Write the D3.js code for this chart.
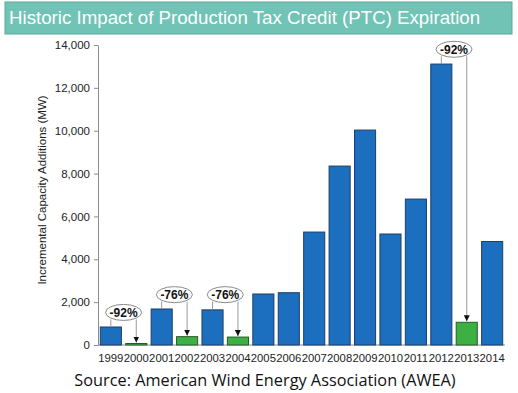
<!DOCTYPE html>
<html>
<head>
<meta charset="utf-8">
<script src="https://cdn.jsdelivr.net/npm/d3@7"></script>
<style>
  body { margin: 0; background: #fff; }
  svg { display: block; }
</style>
</head>
<body>
<div id="chart"></div>
<script>
// Data
const years = ["1999","2000","2001","2002","2003","2004","2005","2006","2007","2008","2009","2010","2011","2012","2013","2014"];
const capacity = [840, 70, 1680, 390, 1640, 370, 2380, 2440, 5270, 8350, 10030, 5180, 6810, 13110, 1060, 4830];
const expiryYears = ["2000", "2002", "2004", "2013"];
const yTicks = [0, 2000, 4000, 6000, 8000, 10000, 12000, 14000];

// annotations : year before -> expiry year, label, ellipse height (MW)
const dropFrom = ["1999", "2001", "2003", "2012"];
const dropTo = ["2000", "2002", "2004", "2013"];
const dropLabel = ["-92%", "-76%", "-76%", "-92%"];
const dropLevel = [1520, 2350, 2350, 13800];

const width = 518, height = 393;
const margin = { top: 45, right: 13, bottom: 48, left: 98 };
const innerW = width - margin.left - margin.right;
const innerH = height - margin.top - margin.bottom;
const FONT = "'Liberation Sans', Arial, sans-serif";

const svg = d3.select("#chart").append("svg")
  .attr("width", width)
  .attr("height", height);

const defs = svg.append("defs");
defs.append("marker")
  .attr("id", "arrow")
  .attr("viewBox", "0 0 10 10")
  .attr("refX", 10).attr("refY", 5)
  .attr("markerWidth", 6).attr("markerHeight", 6)
  .attr("markerUnits", "userSpaceOnUse")
  .attr("orient", "auto")
  .append("path")
  .attr("d", "M0,0L10,5L0,10z")
  .attr("fill", "#111");

// --- title bar ---
svg.append("rect")
  .attr("x", 5).attr("y", 2)
  .attr("width", 507).attr("height", 32)
  .attr("fill", "#71c3b6")
  .attr("stroke", "#5aa89b")
  .attr("stroke-width", 1);

svg.append("text")
  .attr("x", 9).attr("y", 24)
  .attr("fill", "#fff")
  .style("font-family", FONT)
  .style("font-size", "18.7px")
  .text("Historic Impact of Production Tax Credit (PTC) Expiration");

const g = svg.append("g")
  .attr("transform", `translate(${margin.left},${margin.top})`);

// --- scales ---
const x = d3.scaleBand()
  .domain(years)
  .range([0, innerW])
  .paddingInner(0.17)
  .paddingOuter(0.09);

const y = d3.scaleLinear()
  .domain([0, 14000])
  .range([innerH, 0]);

// --- y axis ---
const yAxis = g.append("g")
  .call(d3.axisLeft(y).tickValues(yTicks).tickFormat(d3.format(",")).tickSize(4).tickSizeOuter(0));
yAxis.select(".domain").attr("stroke", "#8c8c8c");
yAxis.selectAll(".tick line").attr("stroke", "#8c8c8c");
yAxis.selectAll("text")
  .attr("x", -8)
  .attr("fill", "#222")
  .style("font-family", FONT)
  .style("font-size", "11.5px");

// --- x axis line ---
g.append("line")
  .attr("x1", 0).attr("x2", innerW)
  .attr("y1", innerH).attr("y2", innerH)
  .attr("stroke", "#8c8c8c");

g.selectAll("text.year")
  .data(years)
  .enter()
  .append("text")
  .attr("class", "year")
  .attr("x", (d) => x(d) + x.bandwidth() / 2)
  .attr("y", innerH + 17)
  .attr("text-anchor", "middle")
  .attr("fill", "#222")
  .style("font-family", FONT)
  .style("font-size", "11.3px")
  .text((d) => d);

// --- bars ---
g.selectAll("rect.bar")
  .data(years.map((yr, i) => ({ yr, v: capacity[i] })))
  .enter()
  .append("rect")
  .attr("class", "bar")
  .attr("x", (d) => x(d.yr))
  .attr("y", (d) => y(d.v))
  .attr("width", x.bandwidth())
  .attr("height", (d) => innerH - y(d.v))
  .attr("fill", (d) => (expiryYears.includes(d.yr) ? "#3db043" : "#1c6ebf"))
  .attr("stroke", (d) => (expiryYears.includes(d.yr) ? "#2a5a2c" : "#1d3f66"))
  .attr("stroke-width", 1);

// --- drop annotations ---
const valueOf = (yr) => capacity[years.indexOf(yr)];
const cx = (yr) => x(yr) + x.bandwidth() / 2;

dropFrom.forEach((from, i) => {
  const to = dropTo[i];
  const ey = y(dropLevel[i]);
  const ex = (cx(from) + cx(to)) / 2;
  const ry = 8;

  g.append("line")
    .attr("x1", cx(from)).attr("x2", cx(from))
    .attr("y1", y(valueOf(from))).attr("y2", ey + ry - 1)
    .attr("stroke", "#9a9a9a");

  g.append("line")
    .attr("x1", cx(to)).attr("x2", cx(to))
    .attr("y1", ey + ry - 1).attr("y2", y(valueOf(to)) - 1)
    .attr("stroke", "#9a9a9a")
    .attr("marker-end", "url(#arrow)");

  g.append("ellipse")
    .attr("cx", ex).attr("cy", ey)
    .attr("rx", 18).attr("ry", ry)
    .attr("fill", "#fff")
    .attr("stroke", "#8a8a8a");

  g.append("text")
    .attr("x", ex).attr("y", ey + 4.5)
    .attr("text-anchor", "middle")
    .attr("fill", "#111")
    .style("font-family", FONT)
    .style("font-size", "12px")
    .style("font-weight", "700")
    .text(dropLabel[i]);
});

// --- y label ---
svg.append("text")
  .attr("transform", "rotate(-90)")
  .attr("x", -(margin.top + innerH / 2) + 5)
  .attr("y", 46)
  .attr("text-anchor", "middle")
  .attr("fill", "#222")
  .style("font-family", FONT)
  .style("font-size", "11.5px")
  .text("Incremental Capacity Additions (MW)");

// --- source ---
svg.append("text")
  .attr("x", 265).attr("y", 386)
  .attr("text-anchor", "middle")
  .attr("fill", "#111")
  .style("font-family", "'Open Sans', sans-serif")
  .style("font-size", "16.3px")
  .text("Source: American Wind Energy Association (AWEA)");
</script>
</body>
</html>
